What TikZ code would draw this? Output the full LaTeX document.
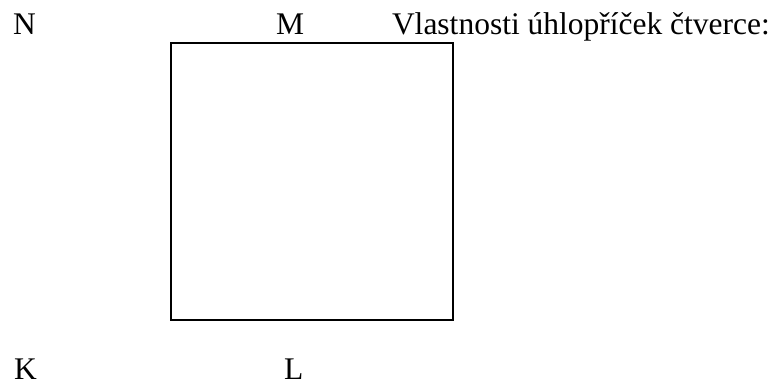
\documentclass[tikz,border=0pt]{standalone}
\usepackage{fontspec}
\setmainfont{Liberation Serif}
\usepackage{tikz}
\usetikzlibrary{positioning}
\tikzset{every picture/.style={line width=2pt}}
\tikzstyle{vrchol}=[anchor=base west,inner sep=0pt,font=\fontsize{31.5}{38}\selectfont]

\begin{document}
\begin{tikzpicture}[x=1pt,y=-1pt]
\useasboundingbox (0,0) rectangle (779,383);
\node[vrchol] (N) at (12,34) {N};
\node[vrchol] (M) at (275,34) {M};
\node[vrchol] (T) at (391,34) {Vlastnosti úhlopříček čtverce:};
\node[vrchol] (K) at (13,379) {K};
\node[vrchol] (L) at (283,379) {L};
\coordinate (A) at (171,320);
\coordinate (C) at (453,43);
\draw (A) rectangle (C);
\end{tikzpicture}
\end{document}
